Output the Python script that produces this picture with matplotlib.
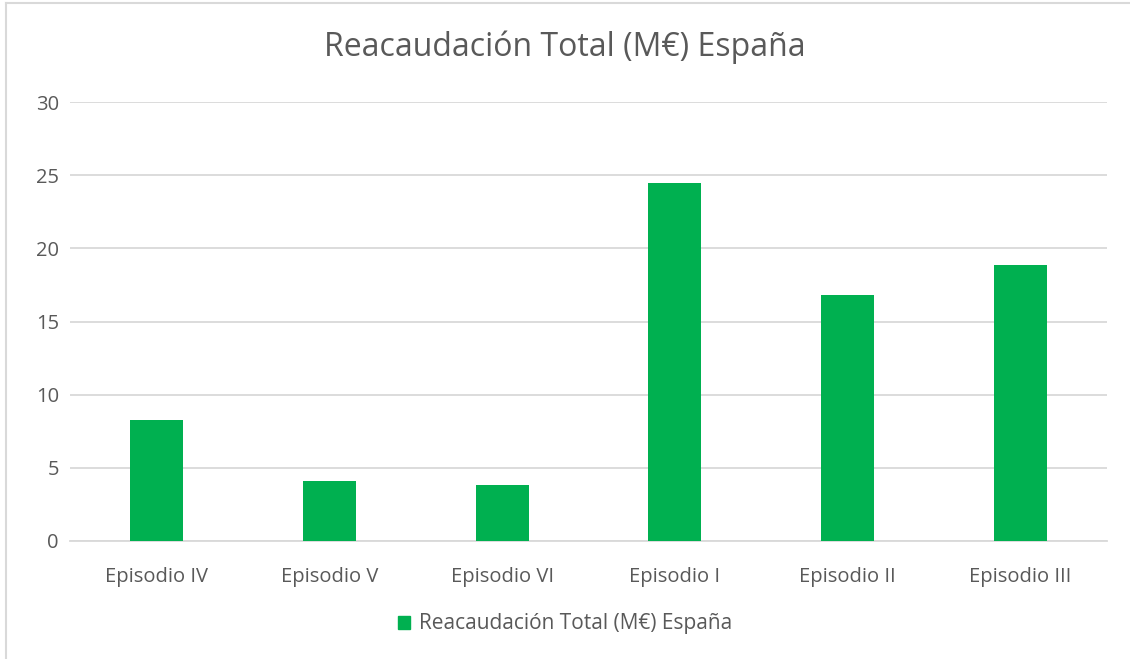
import matplotlib.pyplot as plt
from matplotlib.lines import Line2D
from matplotlib.patches import Patch

plt.rcParams['font.family'] = ['Open Sans', 'DejaVu Sans']

# datos
episodios = ['Episodio IV', 'Episodio V', 'Episodio VI', 'Episodio I', 'Episodio II', 'Episodio III']
recaudacion = [8.27, 4.1, 3.8, 24.45, 16.84, 18.84]
serie = 'Reacaudación Total (M€) España'

verde = '#00B050'
gris_txt = '#595959'
gris_lin = '#D9D9D9'

fig = plt.figure(figsize=(11.3, 6.59), dpi=100)
ax = fig.add_axes([70 / 1130, 118 / 659, 1037 / 1130, 439 / 659])

x = range(len(episodios))
ax.bar(x, recaudacion, width=0.307, color=verde, zorder=3)

ax.set_xlim(-0.5, len(episodios) - 0.5)
ax.set_ylim(0, 30)
ax.set_yticks(range(0, 31, 5))
ax.set_xticks(list(x))
ax.set_xticklabels(episodios)

ax.grid(axis='y', color=gris_lin, linewidth=1.3, zorder=0)
for s in ['top', 'right', 'left']:
    ax.spines[s].set_visible(False)
ax.spines['bottom'].set_color(gris_lin)
ax.spines['bottom'].set_linewidth(1.3)
ax.tick_params(axis='both', length=0, labelsize=14.5, colors=gris_txt)
ax.tick_params(axis='x', pad=19)
ax.tick_params(axis='y', pad=8)

fig.text(0.5, 1 - 47 / 659, serie, ha='center', va='center', fontsize=23, color=gris_txt)

fig.legend(handles=[Patch(color=verde, label=serie)], loc='center',
           bbox_to_anchor=(0.5, 1 - 624 / 659), frameon=False, fontsize=15,
           labelcolor=gris_txt, handlelength=0.6, handleheight=0.6, handletextpad=0.4)

# borde del gráfico
fig.add_artist(Line2D([6 / 1130, 1], [1 - 3 / 659, 1 - 3 / 659], color=gris_lin, linewidth=1.5))
fig.add_artist(Line2D([6 / 1130, 6 / 1130], [0, 1 - 3 / 659], color=gris_lin, linewidth=1.5))

fig.savefig('out.png', dpi=100)
